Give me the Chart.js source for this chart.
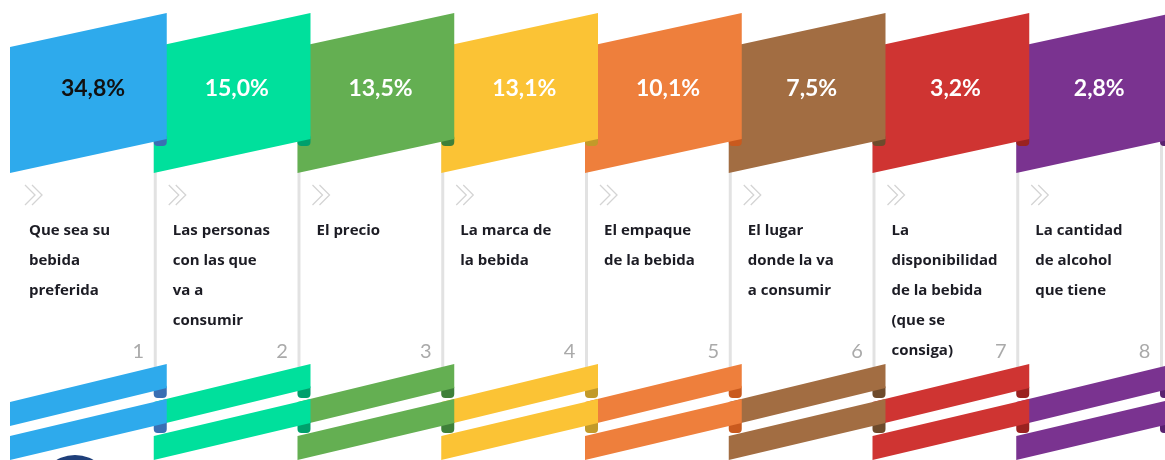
<!DOCTYPE html>
<html lang="es">
<head>
    <meta charset="UTF-8">
    <title>Factores de elección</title>
    <script src="https://cdn.jsdelivr.net/npm/chart.js"></script>
    <style>
        html, body { margin: 0; padding: 0; background: #fff; }
        #wrap { width: 1165px; height: 460px; }
    </style>
</head>
<body>
    <div id="wrap"><canvas id="chart" width="1165" height="460"></canvas></div>

    <script>
        const ranks = ["1", "2", "3", "4", "5", "6", "7", "8"];
        const categories = [
            ["Que sea su", "bebida", "preferida"],
            ["Las personas", "con las que", "va a", "consumir"],
            ["El precio"],
            ["La marca de", "la bebida"],
            ["El empaque", "de la bebida"],
            ["El lugar", "donde la va", "a consumir"],
            ["La", "disponibilidad", "de la bebida", "(que se", "consiga)"],
            ["La cantidad", "de alcohol", "que tiene"]
        ];
        const percentages = [34.8, 15.0, 13.5, 13.1, 10.1, 7.5, 3.2, 2.8];

        const colors = ['#2eaaec', '#00e09c', '#64af52', '#fbc335', '#ee7f3c', '#a26d42', '#cf3432', '#7a3390'];
        const darkColors = ['#3a6fb3', '#00a06c', '#3f8039', '#c29a2a', '#c95a1e', '#6e4b2c', '#9a2220', '#5a2270'];

        function fmt(v) {
            return v.toFixed(1).replace('.', ',') + '%';
        }

        function band(ctx, x0, x1, yLeft, yRight, h) {
            ctx.beginPath();
            ctx.moveTo(x0, yLeft);
            ctx.lineTo(x1, yRight);
            ctx.lineTo(x1, yRight + h);
            ctx.lineTo(x0, yLeft + h);
            ctx.closePath();
            ctx.fill();
        }

        function tab(ctx, x, y, w, h) {
            ctx.beginPath();
            ctx.roundRect(x, y, w, h, 4);
            ctx.fill();
        }

        const ribbonPlugin = {
            id: 'ribbons',
            afterDatasetsDraw(chart) {
                const ctx = chart.ctx;
                const meta = chart.getDatasetMeta(0);
                const xs = chart.scales.x;
                const w = xs.width / xs.ticks.length;
                const over = 13;

                ctx.save();

                // card edges
                ctx.strokeStyle = '#e2e2e2';
                ctx.lineWidth = 3;
                meta.data.forEach((bar) => {
                    const right = bar.x + w / 2 + 1.5;
                    ctx.beginPath();
                    ctx.moveTo(right, 140);
                    ctx.lineTo(right, 395);
                    ctx.stroke();
                });

                // draw right to left so each ribbon overlaps the next
                for (let i = meta.data.length - 1; i >= 0; i--) {
                    const L = meta.data[i].x - w / 2;
                    const W = w + over;

                    // folds under the right ends
                    ctx.fillStyle = darkColors[i];
                    tab(ctx, L + w, 134, over, 12);
                    tab(ctx, L + w, 384, over, 14);
                    tab(ctx, L + w, 419, over, 14);

                    ctx.fillStyle = colors[i];
                    band(ctx, L, L + W, 47, 13, 126);
                    band(ctx, L, L + W, 402, 364, 24);
                    band(ctx, L, L + W, 436, 399, 24);

                    // value on the flag
                    ctx.fillStyle = i === 0 ? '#111' : '#fff';
                    ctx.font = 'bold 23px Lato';
                    ctx.textAlign = 'center';
                    ctx.textBaseline = 'middle';
                    ctx.fillText(fmt(percentages[i]), L + 83, 89);

                    // chevrons
                    ctx.strokeStyle = '#d4d4d4';
                    ctx.lineWidth = 1.3;
                    [0, 7].forEach((dx) => {
                        ctx.beginPath();
                        ctx.moveTo(L + 15 + dx, 185);
                        ctx.lineTo(L + 25 + dx, 195);
                        ctx.lineTo(L + 15 + dx, 205);
                        ctx.stroke();
                    });

                    // label
                    ctx.fillStyle = '#1c1c24';
                    ctx.font = 'bold 15px "Open Sans"';
                    ctx.textAlign = 'left';
                    ctx.textBaseline = 'alphabetic';
                    categories[i].forEach((line, k) => {
                        ctx.fillText(line, L + 19, 235 + k * 30);
                    });

                    // rank number
                    ctx.fillStyle = '#aaaaaa';
                    ctx.font = '20px Lato';
                    ctx.textAlign = 'right';
                    ctx.fillText(ranks[i], L + 134, 358);
                }

                // edge of a shape below the panel
                ctx.fillStyle = '#1f3f7a';
                ctx.beginPath();
                ctx.arc(75, 492, 37, 0, Math.PI * 2);
                ctx.fill();

                ctx.restore();
            }
        };

        new Chart(document.getElementById('chart'), {
            type: 'bar',
            data: {
                labels: ranks,
                datasets: [{
                    data: percentages,
                    backgroundColor: 'rgba(0,0,0,0)'
                }]
            },
            options: {
                responsive: false,
                animation: false,
                layout: { padding: { left: 10, right: 5, top: 0, bottom: 0 } },
                scales: {
                    x: { display: false },
                    y: { display: false, min: 0, max: 40 }
                },
                plugins: {
                    legend: { display: false },
                    tooltip: { enabled: false }
                }
            },
            plugins: [ribbonPlugin]
        });
    </script>
</body>
</html>
